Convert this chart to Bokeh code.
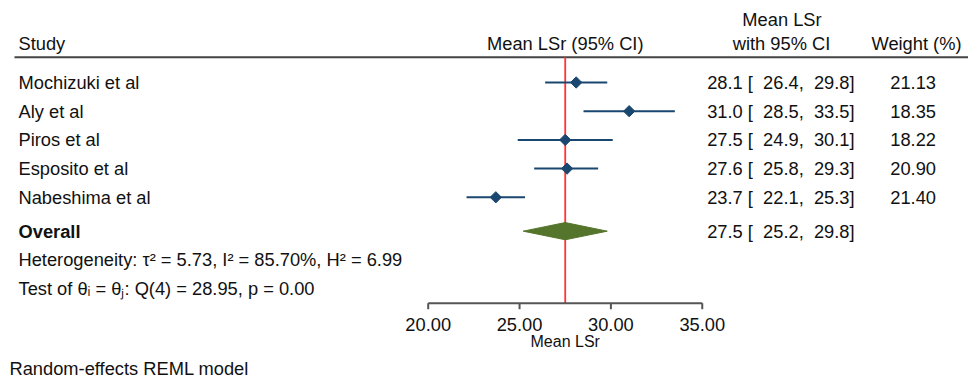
import math
from bokeh.plotting import figure
from bokeh.models import Range1d
from bokeh.core.properties import value
from bokeh.embed import file_html
from bokeh.resources import INLINE

# ---------------- data ----------------
studies = ["Mochizuki et al", "Aly et al", "Piros et al", "Esposito et al", "Nabeshima et al"]
mean_lsr = [28.1, 31.0, 27.5, 27.6, 23.7]
ci_low = [26.4, 28.5, 24.9, 25.8, 22.1]
ci_high = [29.8, 33.5, 30.1, 29.3, 25.3]
weights = [21.13, 18.35, 18.22, 20.90, 21.40]

overall_mean = 27.5
overall_low = 25.2
overall_high = 29.8

tau2 = 5.73
i2 = 85.70
h2 = 6.99
q_df = 4
q_stat = 28.95
p_value = 0.00

x_ticks = [20, 25, 30, 35]

# ---------------- styling / layout ----------------
FONT = value("Liberation Sans")
NAVY = "#1a476f"
GREEN = "#55752c"
RED = "#ff3333"
TXT = "#111111"
FS = "18.3px"

rows = list(range(len(studies)))
ov_row = 5.18
het_row = 6.18
test_row = 7.18
head_row = -1.35
head_top_row = -2.195
rule_row = -0.88
axis_row = 7.69
tick_end_row = 7.90
ticklab_row = 8.43
axtitle_row = 9.02
foot_row = 9.965

p = figure(width=968, height=378,
           x_range=Range1d(-3.410, 49.573), y_range=Range1d(10.314, -2.857),
           x_axis_type=None, y_axis_type=None,
           toolbar_location=None, output_backend="svg", min_border=0,
           outline_line_color=None, background_fill_color="white",
           border_fill_color="white")
p.extra_x_ranges = {"px": Range1d(0, 968)}


def txt(x, y, t, align="left", size=FS, bold=False, rng="px", baseline="middle"):
    p.text(x=x, y=y, text=t, text_font=FONT, text_font_size=size,
           text_align=align, text_baseline=baseline, text_color=TXT,
           text_font_style="bold" if bold else "normal", x_range_name=rng)


# header
txt([18], [head_row], ["Study"])
txt([643], [head_row], ["Mean LSr (95% CI)"], align="right")
txt([781.5], [head_top_row], ["Mean LSr"], align="center")
txt([781], [head_row], ["with 95% CI"], align="center")
txt([916], [head_row], ["Weight (%)"], align="center")
p.segment(x0=[14], x1=[968], y0=[rule_row], y1=[rule_row], x_range_name="px",
          line_color="#444444", line_width=2)

# reference (overall) line
p.segment(x0=[overall_mean], x1=[overall_mean], y0=[rule_row], y1=[axis_row],
          line_color=RED, line_width=1.8)

# study rows
NB = "\u00a0"
txt([18] * len(studies), rows, studies)
ci_txt = [f"{m:.1f} [{NB}{NB}{lo:.1f},{NB}{NB}{hi:.1f}]" for m, lo, hi in zip(mean_lsr, ci_low, ci_high)]
txt([706.7] * len(studies), rows, ci_txt)
txt([935.5] * len(studies), rows, [f"{w:.2f}" for w in weights], align="right")

p.segment(x0=ci_low, x1=ci_high, y0=rows, y1=rows, line_color=NAVY, line_width=2)
p.scatter(mean_lsr, rows, marker="square", angle=math.pi / 4, size=8,
          fill_color=NAVY, line_color=NAVY)

# overall
txt([18], [ov_row], ["Overall"], bold=True)
txt([706.7], [ov_row], [f"{overall_mean:.1f} [{NB}{NB}{overall_low:.1f},{NB}{NB}{overall_high:.1f}]"])
hh = 0.30
p.patch([overall_low, overall_mean, overall_high, overall_mean],
        [ov_row, ov_row - hh, ov_row, ov_row + hh],
        fill_color=GREEN, line_color=GREEN)

# heterogeneity
txt([18], [het_row], [f"Heterogeneity: \u03c4\u00b2 = {tau2:.2f}, I\u00b2 = {i2:.2f}%, H\u00b2 = {h2:.2f}"])
txt([18], [test_row], [f"Test of \u03b8\u1d62 = \u03b8\u2c7c: Q({q_df}) = {q_stat:.2f}, p = {p_value:.2f}"])

# axis
p.segment(x0=[x_ticks[0]], x1=[x_ticks[-1]], y0=[axis_row], y1=[axis_row],
          line_color="#555555", line_width=2)
p.segment(x0=x_ticks, x1=x_ticks, y0=[axis_row] * len(x_ticks), y1=[tick_end_row] * len(x_ticks),
          line_color="#555555", line_width=2)
txt(x_ticks, [ticklab_row] * len(x_ticks), [f"{t:.2f}" for t in x_ticks], align="center", rng="default")
txt([(x_ticks[0] + x_ticks[-1]) / 2], [axtitle_row], ["Mean LSr"], align="center", size="16px", rng="default")

# footnote
txt([9], [foot_row], ["Random-effects REML model"])

open("out.html", "w").write(file_html(p, INLINE))
